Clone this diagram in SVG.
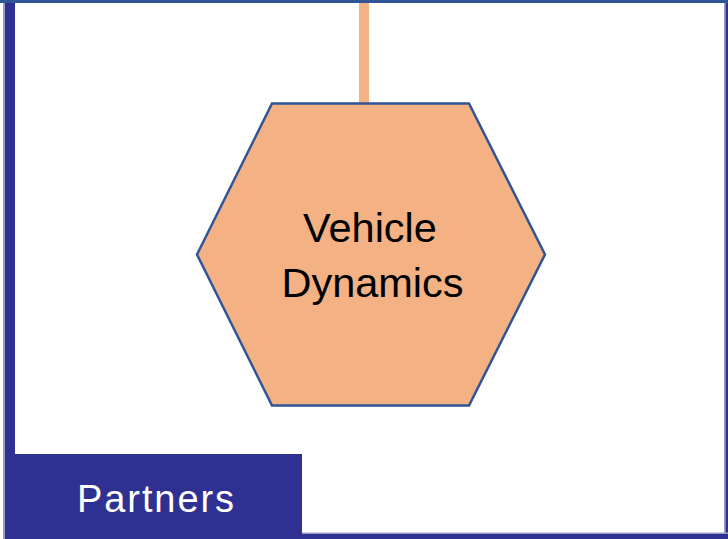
<svg xmlns="http://www.w3.org/2000/svg" width="728" height="539" viewBox="0 0 728 539">
  <style>
    .frame { fill: #2E3192; }
    .edge { fill: #9A9CC8; }
    .hex { fill: #F4B183; stroke: #2F5597; stroke-width: 2.5; stroke-linejoin: miter; }
    .label { font-family: "Liberation Sans", Arial, sans-serif; fill: #000000; font-size: 41.5px; text-anchor: middle; }
    .tag { font-family: "Liberation Sans", Arial, sans-serif; fill: #FFFFFF; font-size: 38px; }
    .conn { stroke: #F4B183; stroke-width: 10; fill: none; }
  </style>
  <rect width="728" height="539" fill="#FFFFFF"/>
  <g id="frame">
    <rect class="edge" x="3" y="0" width="2" height="539"/>
    <rect class="frame" x="5" y="0" width="10" height="539"/>
    <rect class="edge" x="724" y="0" width="1.5" height="534"/>
    <rect class="frame" x="725.5" y="0" width="2.5" height="539"/>
    <rect class="edge" x="5" y="532.5" width="723" height="1.5"/>
    <rect class="frame" x="5" y="534" width="723" height="5"/>
    <rect x="0" y="0" width="728" height="3" fill="#2F5597"/>
  </g>
  <g id="connectors">
    <line class="conn" x1="364" y1="3" x2="364" y2="103"/>
  </g>
  <g id="vehicle-dynamics">
    <polygon class="hex" points="197,254.5 272,103.5 469,103.5 545,254.5 469,405.5 272,405.5"/>
    <text class="label" x="370" y="242">Vehicle</text>
    <text class="label" x="372.5" y="297">Dynamics</text>
  </g>
  <g id="partners">
    <rect class="frame" x="5" y="454" width="297" height="85"/>
    <text class="tag" x="77" y="512" textLength="157">Partners</text>
  </g>
</svg>
